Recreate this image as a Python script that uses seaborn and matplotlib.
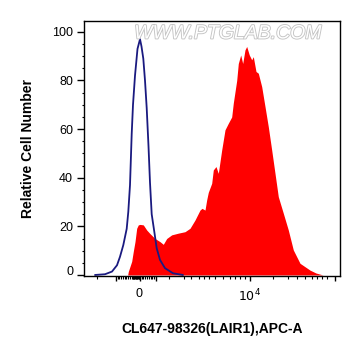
import numpy as np
import seaborn as sns
import matplotlib.pyplot as plt
import matplotlib.patheffects as pe
from matplotlib.transforms import ScaledTranslation

# === Data (x in display channels 0-256, y = relative cell number)
red_x = [43.7, 44.3, 46.0, 47.7, 49.3, 51.0, 52.7, 54.3, 56.0, 59.3, 62.7, 66.0,
         71.0, 76.0, 79.3, 82.7, 87.7, 94.3, 101.0, 106.0, 111.0, 112.7, 116.0,
         118.0, 121.0, 122.7, 124.3, 127.7, 129.3, 132.0, 134.3, 137.7, 141.0,
         144.3, 147.7, 149.3, 152.7, 154.3, 156.7, 158.7, 161.0, 162.7, 165.3,
         167.7, 169.3, 172.0, 174.3, 177.7, 181.0, 184.3, 187.7, 191.0, 194.3,
         199.3, 204.3, 209.3, 216.0, 226.0, 232.0, 239.0]
red_y = [0.0, 1.4, 3.5, 5.6, 9.7, 13.7, 19.2, 20.6, 20.8, 20.6, 18.5, 17.0,
         15.0, 13.7, 12.6, 15.0, 16.5, 17.2, 17.8, 19.2, 22.6, 24.0, 26.7,
         27.4, 26.7, 30.9, 34.0, 37.7, 43.2, 44.6, 41.8, 51.4, 59.7,
         62.4, 65.0, 70.7, 80.0, 87.0, 90.5, 87.0, 92.6, 94.0, 90.5,
         88.5, 89.8, 83.7, 83.0, 77.5, 69.3, 61.0, 51.4, 41.8, 32.2,
         25.4, 18.5, 10.3, 4.8, 2.0, 0.8, 0.0]

blue_x = [11, 21, 28, 33, 36, 39.3, 42.7, 44.3, 46, 47.7, 49, 51, 53.5, 56,
          57.5, 59.3, 61, 62.7, 64.5, 66, 67.7, 70.3, 72.7, 76, 81, 89, 99]
blue_y = [0, 0.3, 1.4, 4, 7.5, 12.3, 19, 26, 37, 58, 70, 82, 93, 97,
          94, 89, 80, 68.7, 53, 38, 25, 17.8, 11, 6.2, 2.8, 0.7, 0]

xtick_major = [31.7, 55.5, 71.7, 166.0, 251.0]
xtick_labels = ["", "0", "", "$10^4$", ""]
xtick_minor = ([13.3] + list(np.arange(33.5, 48, 1.8)) + list(np.arange(48.5, 56.5, 0.6))
               + list(np.arange(57.5, 71, 1.8))
               + [85, 100, 106.7, 115, 120, 125, 131, 139, 146, 151, 156, 161,
                  189, 204, 213, 221, 227.7, 232.7, 237.7, 242.7])

sns.set_style("ticks")
plt.rcParams["font.family"] = ["Liberation Sans", "DejaVu Sans"]
plt.rcParams["text.color"] = "black"
plt.rcParams["axes.labelcolor"] = "black"
plt.rcParams["xtick.color"] = "black"
plt.rcParams["ytick.color"] = "black"

fig = plt.figure(figsize=(3.61, 3.56), dpi=100)
ax = fig.add_axes([84 / 361, 1 - 275.7 / 356, 256 / 361, 255 / 356])

ax.fill_between(red_x, red_y, color="#ff0000", lw=0)
sns.lineplot(x=blue_x, y=blue_y, color="#1a1a80", lw=1.3, ax=ax)

ax.set_xlim(0, 256)
ax.set_ylim(-0.3, 104.6)

ax.set_xticks(xtick_major)
ax.set_xticklabels(xtick_labels, fontsize=9)
ax.set_xticks(xtick_minor, minor=True)
ax.set_yticks([0, 20, 40, 60, 80, 100])
ax.set_yticklabels(["0", "20", "40", "60", "80", "100"], fontsize=9)
ax.set_yticks(np.arange(0, 101, 5), minor=True)

ax.tick_params(axis="x", which="major", length=3.5, width=1, pad=5)
ax.tick_params(axis="x", which="minor", length=2, width=0.8)
ax.tick_params(axis="y", which="major", length=4.8, width=1, pad=3)
ax.tick_params(axis="y", which="minor", length=1.8, width=0.8)

ylbls = ax.get_yticklabels()
ylbls[0].set_transform(ylbls[0].get_transform() + ScaledTranslation(0, 4 / 100, fig.dpi_scale_trans))

for s in ax.spines.values():
    s.set_color("black")
    s.set_linewidth(1)

ax.set_xlabel("CL647-98326(LAIR1),APC-A", fontsize=10, fontweight="bold", labelpad=13)
ax.set_ylabel("Relative Cell Number", fontsize=10, fontweight="bold", labelpad=12)

fig.text(228 / 361, 1 - 34 / 356, "WWW.PTGLAB.COM", ha="center", va="center",
         fontsize=14, style="italic", color="white",
         path_effects=[pe.withStroke(linewidth=1.3, foreground="#c4c4c4")])

fig.savefig("out.png", dpi=100)
